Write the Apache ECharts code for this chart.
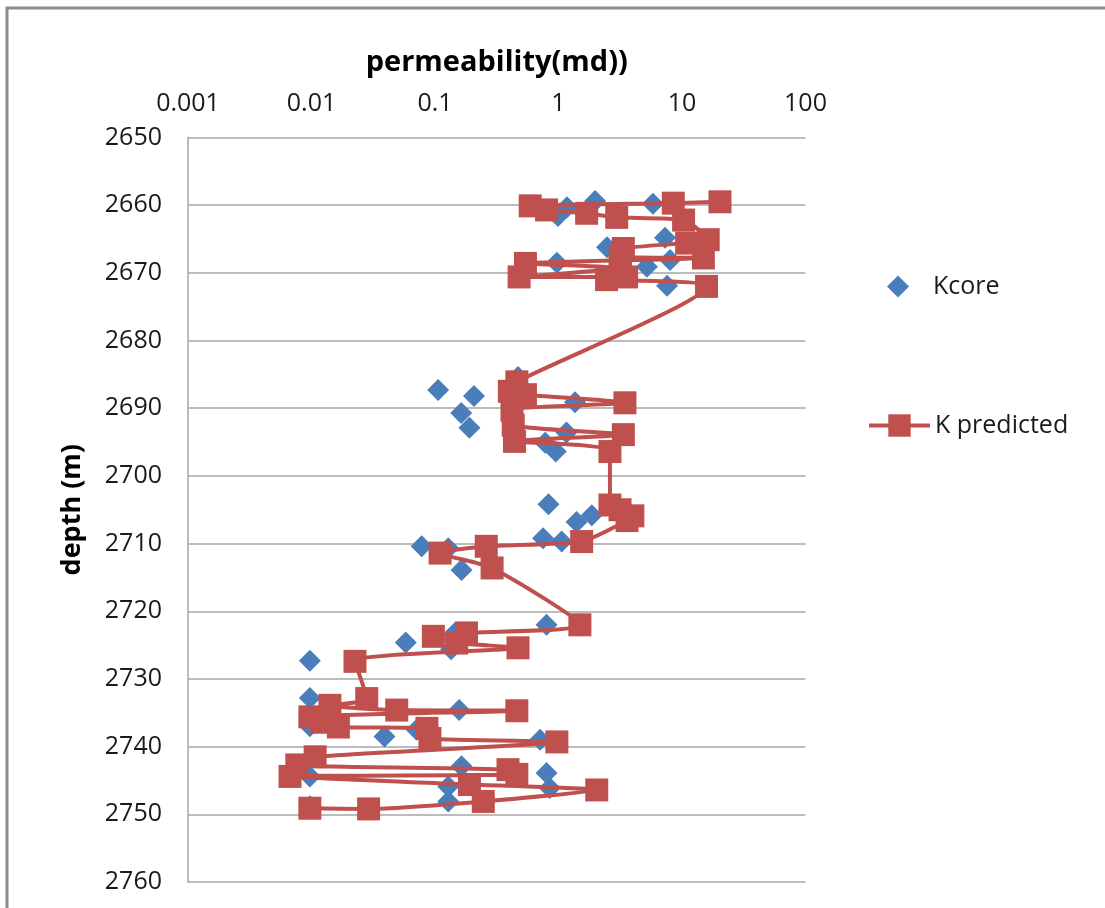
<!DOCTYPE html>
<html><head><meta charset="utf-8">
<script src="https://cdn.jsdelivr.net/npm/echarts@6/dist/echarts.min.js"></script>
<style>html,body{margin:0;padding:0;background:#fff}#c{width:1105px;height:908px}</style>
</head><body><div id="c"></div>
<script>
const xTickLabels = ['0.001','0.01','0.1','1','10','100'];
const kcoreK = [1.17,1.98,5.82,0.99,2.47,7.28,0.97,8.0,5.2,7.57,
  0.47,0.106,0.207,1.36,0.163,0.19,1.16,0.78,0.95,
  0.83,1.86,1.40,0.75,1.06,0.078,0.128,0.164,
  0.80,0.145,0.058,0.135,0.0097,
  0.0097,0.157,0.0097,0.071,0.039,0.71,0.164,0.80,0.0097,0.128,0.85,0.128,0.0097];
const kcoreDepth = [2660.3,2659.4,2659.8,2661.6,2666.2,2664.8,2668.5,2668.1,2669.1,2671.9,
  2685.4,2687.3,2688.2,2689.1,2690.7,2692.9,2693.6,2695.1,2696.4,
  2704.2,2705.8,2706.8,2709.2,2709.7,2710.4,2710.7,2713.9,
  2722.0,2723.2,2724.6,2725.6,2727.3,
  2732.8,2734.6,2737.0,2737.5,2738.5,2739.0,2742.9,2743.9,2744.4,2745.9,2746.1,2748.1,2748.8];
const kpredK = [20.3,8.5,0.59,0.80,1.69,2.96,10.3,16.3,10.9,3.35,3.16,14.9,0.54,3.16,0.48,3.56,2.45,15.8,
  0.46,0.40,0.54,3.45,0.42,0.43,3.35,0.44,2.61,
  2.61,3.15,4.0,3.59,1.54,0.26,0.11,0.29,
  1.49,0.18,0.097,0.15,0.47,0.0225,
  0.028,0.0141,0.049,0.46,0.0097,0.0121,0.0165,0.086,0.091,0.97,0.0107,0.0076,0.39,0.46,0.0067,0.19,2.04,0.246,0.029,0.0097];
const kpredDepth = [2659.5,2659.7,2660.1,2660.7,2661.2,2661.8,2662.2,2665.1,2665.6,2666.4,2667.6,2667.8,2668.6,2669.3,2670.6,2670.6,2671.0,2672.0,
  2686.1,2687.5,2688.0,2689.2,2690.3,2692.5,2693.9,2694.9,2696.4,
  2704.3,2705.0,2705.9,2706.6,2709.7,2710.4,2711.4,2713.6,
  2722.0,2723.2,2723.7,2724.7,2725.4,2727.4,
  2732.9,2733.9,2734.6,2734.7,2735.6,2736.4,2737.1,2737.3,2738.8,2739.3,2741.5,2742.7,2743.4,2744.1,2744.4,2745.6,2746.4,2748.1,2749.2,2749.1];

const FONT = 'Open Sans';
const chart = echarts.init(document.getElementById('c'));
chart.setOption({
  animation: false,
  backgroundColor: '#fff',
  textStyle: {fontFamily: FONT},
  graphic: [{type:'rect', shape:{x:7,y:8,width:1200,height:1000}, style:{fill:'none', stroke:'#8c8c8c', lineWidth:3}, silent:true}],
  grid: {left:188, top:137.5, right:299.5, bottom:26, containLabel:false},
  legend: [
    {data:[{name:'Kcore', icon:'diamond'}], left:882, top:269, itemWidth:22, itemHeight:22,
     itemStyle:{opacity:1},
     textStyle:{fontFamily:FONT, fontSize:25, color:'#1a1a1a', padding:[0,0,0,19]}},
    {data:['K predicted'], left:862, top:408, itemWidth:61, itemHeight:28,
     lineStyle:{width:4},
     textStyle:{fontFamily:FONT, fontSize:25, color:'#1a1a1a'}}
  ],
  xAxis: {
    type:'log', logBase:10, min:0.001, max:100, position:'top',
    name:'permeability(md))', nameLocation:'middle', nameGap:60,
    nameTextStyle:{fontFamily:FONT, fontSize:29, fontWeight:'bold', color:'#000'},
    axisLine:{show:false}, axisTick:{show:false}, splitLine:{show:false},
    axisLabel:{margin:21, fontFamily:FONT, fontSize:25, color:'#1a1a1a',
      formatter: v => { const i = Math.round(Math.log10(v)) + 3; return xTickLabels[i] !== undefined ? xTickLabels[i] : ''; }}
  },
  yAxis: {
    type:'value', inverse:true, min:2650, max:2760, interval:10,
    name:'depth (m)', nameLocation:'middle', nameRotate:90, nameGap:102,
    nameTextStyle:{fontFamily:FONT, fontSize:27, fontWeight:'bold', color:'#000'},
    axisLine:{show:true, lineStyle:{color:'#a6a6a6', width:1.5}}, axisTick:{show:false},
    splitLine:{show:true, lineStyle:{color:'#a6a6a6', width:1.5}},
    axisLabel:{margin:26, fontFamily:FONT, fontSize:25, color:'#1a1a1a', formatter: v => String(v)}
  },
  series: [
    {name:'Kcore', type:'scatter', symbol:'diamond', symbolSize:22,
     itemStyle:{color:'#4A7EBB', opacity:1}, z:2,
     data: kcoreK.map((k,i)=>[k,kcoreDepth[i]])},
    {name:'K predicted', type:'line', symbol:'rect', symbolSize:23, showSymbol:true,
     smooth:0.2, itemStyle:{color:'#C0504D'}, lineStyle:{color:'#C0504D', width:4}, z:3,
     data: kpredK.map((k,i)=>[k,kpredDepth[i]])}
  ]
});
</script></body></html>
